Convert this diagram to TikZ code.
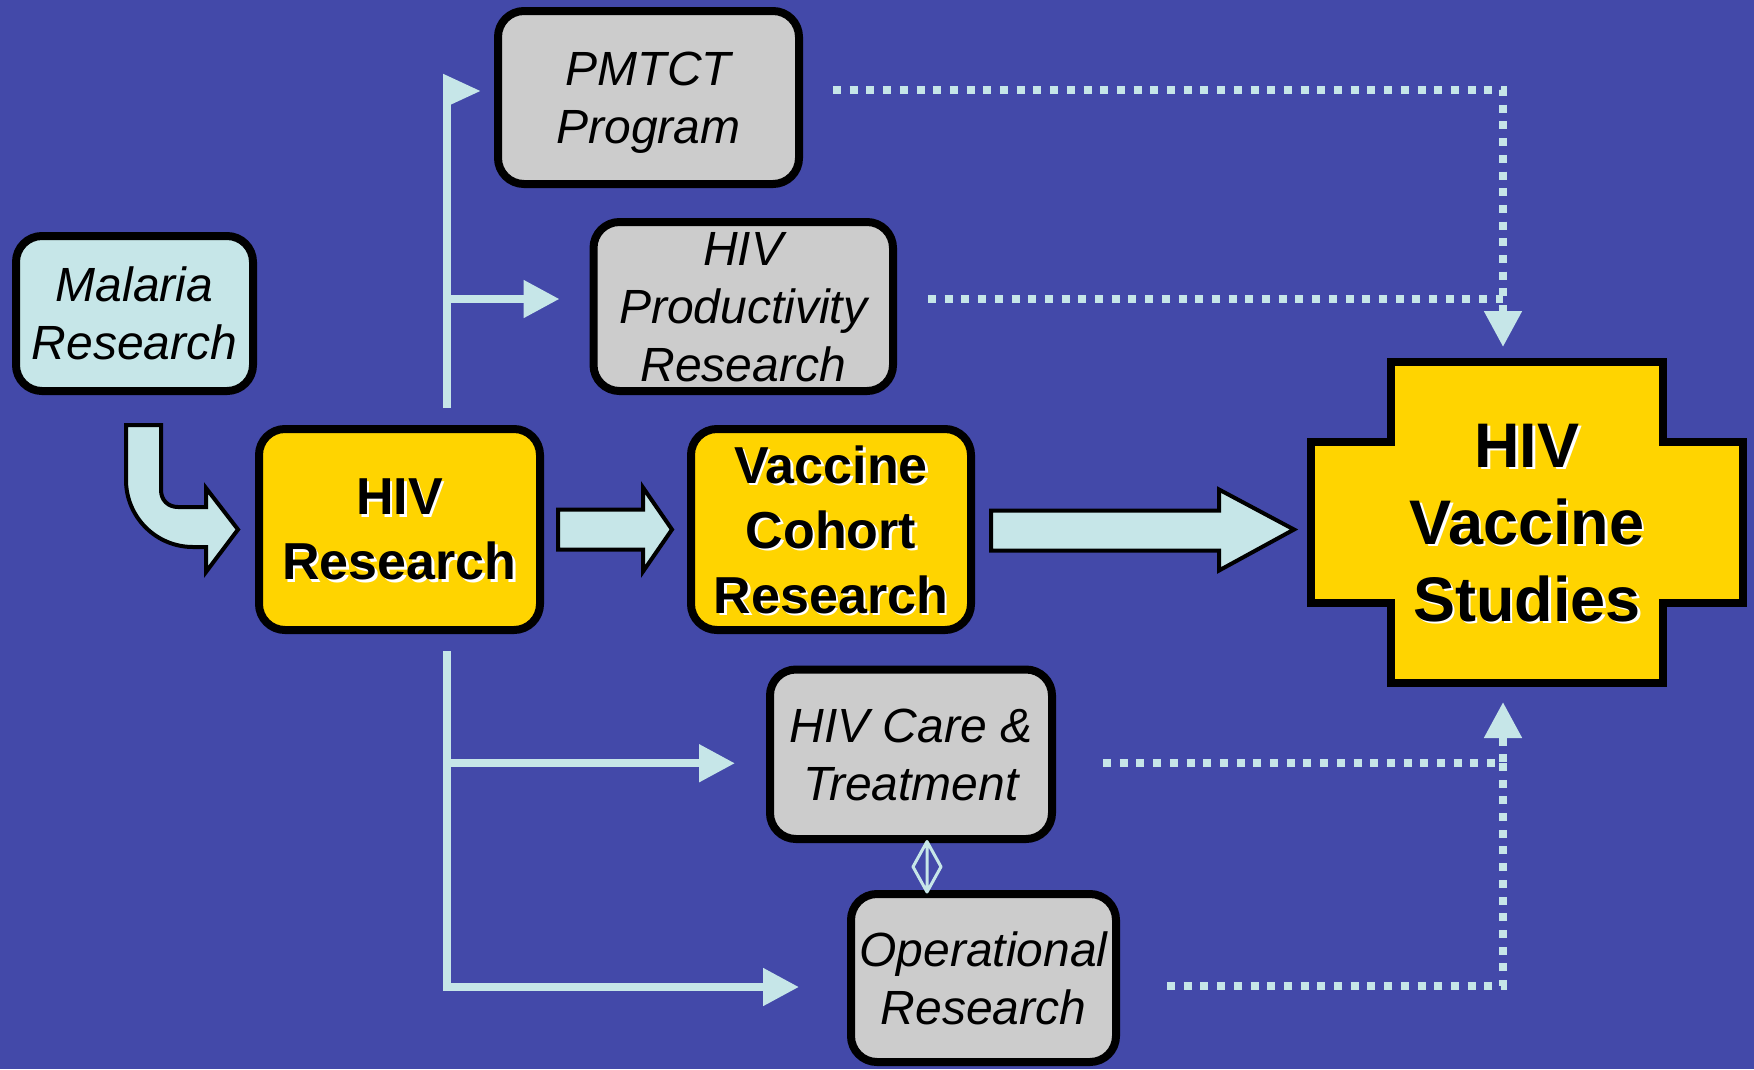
\documentclass[tikz,border=0pt]{standalone}
\usepackage{fontspec}
\setmainfont{Liberation Sans}
\usetikzlibrary{arrows.meta,calc}

\definecolor{bgblue}{RGB}{67,73,169}
\definecolor{hivyellow}{RGB}{255,212,0}
\definecolor{boxgray}{RGB}{204,204,204}
\definecolor{lcyan}{RGB}{198,230,232}

% white shadow behind bold text
\newcommand{\shd}[1]{\rlap{\hspace{2.5pt}\raisebox{-2.5pt}{\color{white}#1}}#1}

\begin{document}
\begin{tikzpicture}[x=1pt,y=-1pt,
    box/.style={draw=black,line width=8pt,rounded corners=26pt,align=center,
        inner sep=0pt,outer sep=0pt,text depth=0pt,
        execute at begin node={\rule{0pt}{1.05em}}},
    graybox/.style={box,fill=boxgray,font=\fontsize{48}{58}\selectfont\itshape},
    cyanbox/.style={box,fill=lcyan,font=\fontsize{48}{58}\selectfont\itshape},
    yellowbox/.style={box,fill=hivyellow,font=\fontsize{52}{65}\selectfont\bfseries},
    blockarrow/.style={fill=lcyan,draw=black,line width=4pt,line join=miter},
    conn/.style={draw=lcyan,line width=8pt},
    dots/.style={draw=lcyan,line width=8pt,dash pattern=on 8pt off 8.7pt},
    tip/.style={-{Triangle[length=36pt,width=36pt]}}]

    \useasboundingbox (0,0) rectangle (1754,1069);
    \fill[bgblue] (0,0) rectangle (1754,1069);

    % Boxes
    \node[cyanbox,minimum width=237,minimum height=155] (malaria) at (134.5,313.5) {Malaria\\Research};
    \node[graybox,minimum width=301,minimum height=173] (pmtct) at (648.5,97.5) {PMTCT\\Program};
    \node[graybox,minimum width=299.5,minimum height=169] (prod) at (743.25,306.5) {HIV\\Productivity\\Research};
    \node[yellowbox,minimum width=281,minimum height=201] (hivres) at (399.5,529.5) {\shd{HIV}\\\shd{Research}};
    \node[yellowbox,minimum width=280,minimum height=201] (vcohort) at (831,529.5) {\shd{Vaccine}\\\shd{Cohort}\\\shd{Research}};
    \node[graybox,minimum width=282,minimum height=169.5] (care) at (911,754.25) {HIV Care \&\\Treatment};
    \node[graybox,minimum width=265,minimum height=168] (oper) at (983.5,978) {Operational\\Research};

    % The cross
    \coordinate (sc) at (1527,522.5);
    \draw[fill=hivyellow,line width=8pt,line join=miter]
        ($(sc)+(-136,-160.5)$) -- ++(272,0) -- ++(0,80) -- ++(80,0) -- ++(0,161)
        -- ++(-80,0) -- ++(0,80) -- ++(-272,0) -- ++(0,-80) -- ++(-80,0)
        -- ++(0,-161) -- ++(80,0) -- cycle;
    \node[align=center,inner sep=0pt,outer sep=0pt,minimum width=272,minimum height=321,
        text depth=0pt,execute at begin node={\rule{0pt}{0.95em}},
        font=\fontsize{63}{77}\selectfont\bfseries] (studies) at (sc)
        {\shd{HIV}\\\shd{Vaccine}\\\shd{Studies}};

    % Block arrows
    \coordinate (mb) at ($(malaria.south)+(-8.5,34)$);
    \draw[blockarrow] (mb) -- ++(0,55)
        .. controls +(0,37) and +(-37,0) .. ($(mb)+(67,122)$)
        -- ++(13,0) -- ++(0,25) -- ($(hivres.west)+(-21,0)$)
        -- ($(mb)+(80,63)$) -- ++(0,19) -- ++(-28,0)
        .. controls +(-10,0) and +(0,10) .. ($(mb)+(35,65)$)
        -- ($(mb)+(35,0)$) -- cycle;
    \draw[blockarrow] ($(hivres.east)+(18,-20)$) -- ++(85,0) -- ++(0,-22)
        -- ($(vcohort.west)+(-19,0)$) -- ($(hivres.east)+(103,42)$) -- ++(0,-22)
        -- ($(hivres.east)+(18,20)$) -- cycle;
    \draw[blockarrow] ($(vcohort.east)+(20,-19)$) -- ++(228,0) -- ++(0,-21)
        -- ($(studies.west)+(-97,7)$) -- ($(vcohort.east)+(248,41)$) -- ++(0,-20)
        -- ($(vcohort.east)+(20,21)$) -- cycle;

    % Branches from HIV Research
    \coordinate (ut) at ($(hivres.north)+(47.5,-21)$);
    \coordinate (lt) at ($(hivres.south)+(47.5,21)$);
    \draw[conn] (ut) -- ($(pmtct.west)+(-51,-6.5)$);
    \draw[conn,-{Triangle[length=38pt,width=32pt]}] ($(pmtct.west)+(-55,-6.5)$) -- ($(pmtct.west)+(-17,-6.5)$);
    \draw[conn,tip] ($(prod.west)+(-146.5,-7.5)$) -- ($(prod.west)+(-34,-7.5)$);
    \draw[conn,tip] (lt) |- ($(oper.west)+(-52,9)$);
    \draw[conn,tip] ($(care.west)+(-323,9)$) -- ($(care.west)+(-35,9)$);

    % Care <-> Operational
    \coordinate (dtop) at ($(care.south)+(16,2.5)$);
    \coordinate (dbot) at ($(oper.north)+(-56.5,-2)$);
    \draw[lcyan,line width=3pt,line join=round]
        (dtop) -- ($(dtop)!0.5!(dbot)+(-14,0)$) -- (dbot) -- ($(dtop)!0.5!(dbot)+(14,0)$) -- cycle
        (dtop) -- (dbot);

    % Dotted links to the studies
    \draw[dots,tip] ($(pmtct.east)+(34,-7.5)$) -| ($(studies.north)+(-24,-15)$);
    \draw[dots] ($(prod.east)+(35,-7.5)$) -- ($(studies.north)+(-24,-63)$);
    \draw[dots,tip] ($(care.east)+(51,9)$) -| ($(studies.south)+(-24,19)$);
    \draw[dots] ($(oper.east)+(51,8)$) -| ($(studies.south)+(-24,80)$);

\end{tikzpicture}
\end{document}
